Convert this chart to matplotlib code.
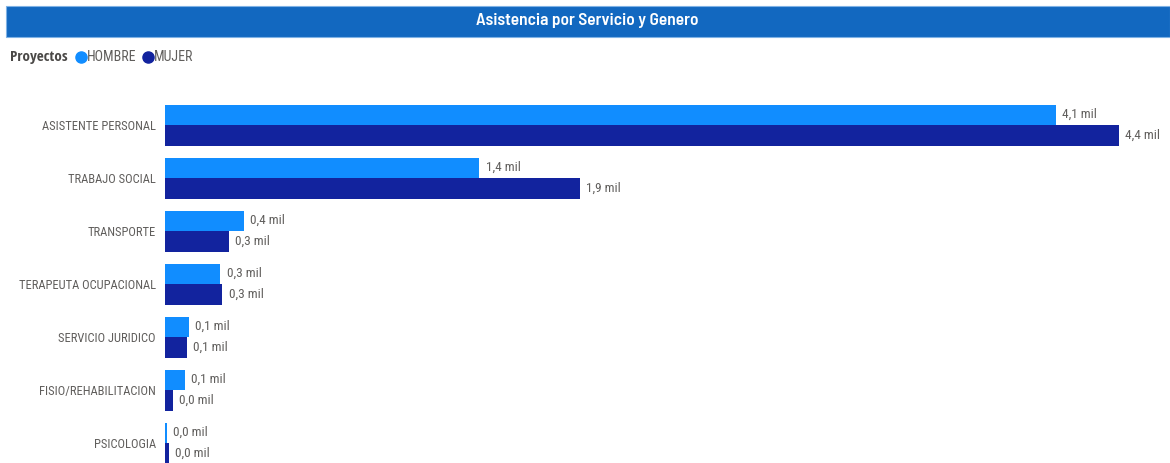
import matplotlib.pyplot as plt
from matplotlib.patches import Rectangle
from matplotlib.lines import Line2D
import numpy as np

categories = ['ASISTENTE PERSONAL', 'TRABAJO SOCIAL', 'TRANSPORTE', 'TERAPEUTA OCUPACIONAL',
              'SERVICIO JURIDICO', 'FISIO/REHABILITACION', 'PSICOLOGIA']
hombre = [4110, 1450, 365, 255, 110, 90, 8]
mujer = [4400, 1915, 295, 265, 100, 38, 18]

C_HOMBRE = '#118DFF'
C_MUJER = '#12239E'
GREY = '#605E5C'
FONT = ['Roboto Condensed', 'Roboto', 'DejaVu Sans']
BOLD_FONT = ['Open Sans Condensed', 'Roboto Condensed', 'Roboto', 'DejaVu Sans']
TITLE_FONT = ['Barlow Semi Condensed', 'Roboto Condensed', 'Roboto', 'DejaVu Sans']

W, H = 1170, 463
fig = plt.figure(figsize=(W / 100, H / 100), dpi=100)

# title bar
fig.patches.append(Rectangle((6 / W, 1 - 37 / H), 1 - 6 / W, 31 / H, transform=fig.transFigure,
                             facecolor='#1268C0', edgecolor='#7FB2E5', lw=0.8, zorder=0))
fig.text(587 / W, 1 - 21 / H, 'Asistencia por Servicio y Genero', color='white', fontsize=12.5,
         ha='center', va='center', family=TITLE_FONT, fontweight='semibold')

# legend
ly = 1 - 57 / H
fig.text(10 / W, ly, 'Proyectos', color='#4A4846', fontsize=11, fontweight='bold', family=BOLD_FONT,
         va='center')
for x0, col, lab in [(81, C_HOMBRE, 'HOMBRE'), (148, C_MUJER, 'MUJER')]:
    fig.add_artist(Line2D([x0 / W], [ly], marker='o', markersize=8, color=col,
                          transform=fig.transFigure))
    fig.text((x0 + 5.5) / W, ly, lab, color=GREY, fontsize=10, family=FONT, va='center')

# bars
top_px, px_per_cat = 98.5, 53.0
x_left, x_right = 165, 1165
px_per_unit = 954 / 4400
ax = fig.add_axes([x_left / W, 0, (x_right - x_left) / W, 1 - top_px / H])
ymax = -0.5 + (H - top_px) / px_per_cat
y = np.arange(len(categories))
bh = 20.5 / px_per_cat
ax.barh(y - bh / 2, hombre, height=bh, color=C_HOMBRE)
ax.barh(y + bh / 2, mujer, height=bh, color=C_MUJER)
for yi, v in zip(y - bh / 2, hombre):
    ax.annotate(f'{v / 1000:.1f} mil'.replace('.', ','), (v, yi), xytext=(4.5, 0), textcoords='offset points',
                va='center', ha='left', color=GREY, fontsize=9.5, family=FONT)
for yi, v in zip(y + bh / 2, mujer):
    ax.annotate(f'{v / 1000:.1f} mil'.replace('.', ','), (v, yi), xytext=(4.5, 0), textcoords='offset points',
                va='center', ha='left', color=GREY, fontsize=9.5, family=FONT)

ax.set_ylim(ymax, -0.5)
ax.set_xlim(0, (x_right - x_left) / px_per_unit)
ax.set_yticks(y)
ax.set_yticklabels(categories, color=GREY, fontsize=9, family=FONT)
ax.tick_params(axis='y', length=0, pad=6.5)
ax.set_xticks([])
for s in ax.spines.values():
    s.set_visible(False)

fig.savefig('out.png', dpi=100)
